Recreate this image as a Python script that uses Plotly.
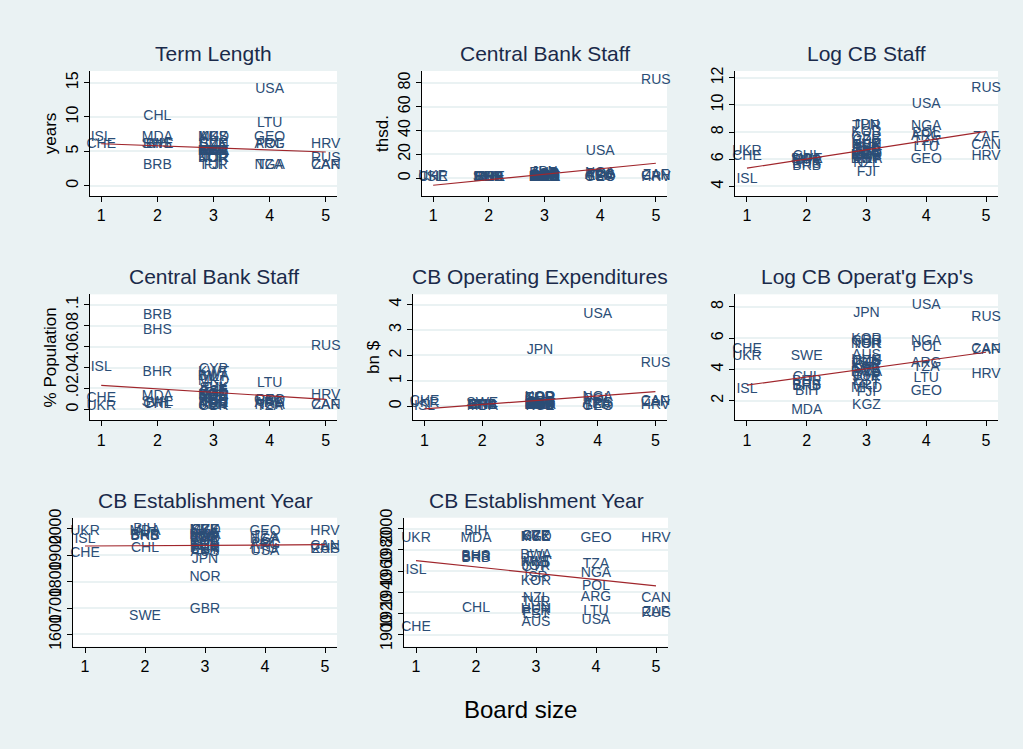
import plotly.graph_objects as go

countries = ["ISL","CHE","UKR",
             "CHL","MDA","SWE","BIH","BRB","BHS","BHR",
             "JPN","KOR","NOR","GBR","AUS","TUR","CYP","KWT","BWA","FJI","NZL","KGZ","MKD","EST","ISR","HUN","PER","CZE","SVK","MLT","JOR",
             "USA","LTU","GEO","ARG","NGA","TZA","POL",
             "HRV","RUS","CAN","ZAF"]
board = [1,1,1, 2,2,2,2,2,2,2,
         3,3,3,3,3,3,3,3,3,3,3,3,3,3,3,3,3,3,3,3,3,
         4,4,4,4,4,4,4, 5,5,5,5]
term_years = [7,6,None, 10,7,6,6,3,6,None,
              5,4,4,5,7,3,5,5,5,3,5,7,7,5,5,6,5,6,6,5,4,
              14,9,7,6,3,3,6, 6,4,3,3]
staff_thsd = [0.1,0.7,1.0, 0.5,0.4,0.4,0.4,0.25,0.3,0.35,
              5.0,3.0,0.6,2.0,1.0,4.2,0.45,0.55,0.4,0.15,0.3,0.7,0.55,0.4,0.9,1.2,1.1,1.6,1.1,0.4,0.7,
              22,1.0,0.4,2.0,4.2,1.5,3.0, 0.6,82,1.2,2.0]
log_staff = [4.5,6.2,6.6, 6.2,6.0,6.0,5.9,5.5,5.6,5.8,
             8.5,8.0,6.3,7.6,6.9,8.4,6.1,6.3,6.0,5.0,5.7,6.5,6.3,6.0,6.8,7.1,7.0,7.4,7.0,6.0,6.6,
             10.0,6.9,6.0,7.7,8.4,7.3,7.9, 6.2,11.2,7.0,7.6]
staff_pct_pop = [0.04,0.01,0.003, 0.005,0.012,0.007,0.006,0.09,0.075,0.035,
                 0.004,0.006,0.013,0.003,0.005,0.006,0.038,0.035,0.031,0.02,0.009,0.014,0.027,0.017,0.012,0.012,0.004,0.016,0.02,0.03,0.013,
                 0.007,0.025,0.008,0.006,0.004,0.003,0.008, 0.013,0.06,0.004,0.004]
opex_bn = [0.01,0.2,0.12, 0.05,0.01,0.1,0.02,0.03,0.03,0.04,
           2.2,0.35,0.3,0.32,0.15,0.3,0.05,0.08,0.05,0.02,0.05,0.01,0.02,0.03,0.1,0.1,0.08,0.15,0.08,0.03,0.05,
           3.6,0.03,0.01,0.1,0.35,0.06,0.25, 0.02,1.7,0.2,0.15]
log_opex = [2.7,5.3,4.8, 3.5,1.4,4.8,2.6,2.9,3.0,3.2,
            7.6,5.9,5.6,5.8,4.9,5.6,3.6,4.2,3.8,2.5,3.9,1.7,2.8,3.2,4.4,4.6,4.3,4.5,4.0,3.0,3.5,
            8.1,3.4,2.6,4.4,5.8,4.1,5.4, 3.7,7.3,5.3,5.2]
est_year = [1961,1907,1991, 1925,1991,1668,1997,1972,1974,1973,
            1882,1950,1816,1694,1911,1930,1963,1968,1975,1973,1934,1992,1992,1919,1954,1924,1922,1993,1993,1968,1964,
            1913,1922,1991,1935,1958,1966,1945, 1991,1920,1934,1921]

# fitted-line end points (x = 1 and x = 5)
fit_x = [1, 5]
fit_term = [6.1, 4.9]
fit_staff = [-6, 12.5]
fit_logstaff = [5.35, 8.05]
fit_pct = [0.023, 0.0095]
fit_opex = [-0.1, 0.58]
fit_logopex = [3.0, 5.1]
fit_year_all = [1935, 1940]
fit_year_1900 = [1970, 1946]

W, H = 1023, 749
panels = [
    dict(title="Term Length", y=term_years, fit=fit_term, yr=[-1.5, 16.7], tv=[0,5,10,15], tt=["0","5","10","15"],
         yt="years", box=(90,337,63,190)),
    dict(title="Central Bank Staff", y=staff_thsd, fit=fit_staff, yr=[-15, 90], tv=[0,20,40,60,80], tt=["0","20","40","60","80"],
         yt="thsd.", box=(422,667,63,190)),
    dict(title="Log CB Staff", y=log_staff, fit=fit_logstaff, yr=[3.3, 12.5], tv=[4,6,8,10,12], tt=["4","6","8","10","12"],
         yt="", box=(735,998,63,190)),
    dict(title="Central Bank Staff", y=staff_pct_pop, fit=fit_pct, yr=[-0.0105, 0.110], tv=[0,.02,.04,.06,.08,.1],
         tt=["0",".02",".04",".06",".08",".1"], yt="% Population", box=(90,337,290,418)),
    dict(title="CB Operating Expenditures", y=opex_bn, fit=fit_opex, yr=[-0.55, 4.4], tv=[0,1,2,3,4], tt=["0","1","2","3","4"],
         yt="bn $", box=(413,667,290,418)),
    dict(title="Log CB Operat'g Exp's", y=log_opex, fit=fit_logopex, yr=[0.75, 8.8], tv=[2,4,6,8], tt=["2","4","6","8"],
         yt="", box=(735,998,290,418)),
    dict(title="CB Establishment Year", y=est_year, fit=fit_year_all, yr=[1554, 2042], tv=[1600,1700,1800,1900,2000],
         tt=["1600","1700","1800","1900","2000"], yt="", box=(73,337,517,648)),
    dict(title="CB Establishment Year", y=[v if v >= 1900 else None for v in est_year], fit=fit_year_1900, yr=[1888.6, 2010.5],
         tv=[1900,1920,1940,1960,1980,2000], tt=["1900","1920","1940","1960","1980","2000"], yt="", box=(404,668,517,648)),
]

fig = go.Figure()
txtcol = "#2b4d76"
font = "Liberation Sans, Arial, sans-serif"
annotations = []
for i, p in enumerate(panels, start=1):
    xa = "x" if i == 1 else f"x{i}"
    ya = "y" if i == 1 else f"y{i}"
    xs = [b for b, v in zip(board, p["y"]) if v is not None]
    ys = [v for v in p["y"] if v is not None]
    ts = [c for c, v in zip(countries, p["y"]) if v is not None]
    fig.add_trace(go.Scatter(x=xs, y=ys, text=ts, mode="text", textposition="middle center",
                             textfont=dict(color=txtcol, size=14, family=font), xaxis=xa, yaxis=ya,
                             showlegend=False, cliponaxis=False, hoverinfo="skip"))
    fig.add_trace(go.Scatter(x=fit_x, y=p["fit"], mode="lines", line=dict(color="#a0262c", width=1.2),
                             xaxis=xa, yaxis=ya, showlegend=False))
    x0, x1, y0, y1 = p["box"]
    common = dict(showline=True, linecolor="black", linewidth=1, ticks="outside", ticklen=5,
                  tickcolor="black", tickfont=dict(size=16, color="black", family=font), zeroline=False)
    fig.layout[("xaxis" if i == 1 else f"xaxis{i}")] = dict(
        domain=[x0 / W, x1 / W], anchor=ya, range=[0.8, 5.2], tickvals=[1,2,3,4,5],
        showgrid=False, **common)
    fig.layout[("yaxis" if i == 1 else f"yaxis{i}")] = dict(
        domain=[1 - y1 / H, 1 - y0 / H], anchor=xa, range=p["yr"], tickvals=p["tv"], ticktext=p["tt"],
        tickangle=-90, showgrid=True, gridcolor="#eaf2f3", gridwidth=1.5,
        title=dict(text=p["yt"], font=dict(size=17, color="black", family=font), standoff=2), **common)
    annotations.append(dict(text=p["title"], x=(x0 + x1) / 2 / W, y=1 - (y0 - 4) / H, xref="paper", yref="paper",
                            xanchor="center", yanchor="bottom", showarrow=False,
                            font=dict(size=21, color="#1a2a4a", family=font)))
annotations.append(dict(text="Board size", x=520 / W, y=1 - 712 / H, xref="paper", yref="paper",
                        xanchor="center", yanchor="middle", showarrow=False,
                        font=dict(size=24, color="black", family=font)))
fig.update_layout(width=W, height=H, autosize=False, margin=dict(l=0, r=0, t=0, b=0), paper_bgcolor="#eaf2f3",
                  plot_bgcolor="white", annotations=annotations, showlegend=False)
fig.write_html("out.html", config={"responsive": False, "displayModeBar": False},
               post_script="document.body.style.margin='0';document.body.style.overflow='hidden';")
